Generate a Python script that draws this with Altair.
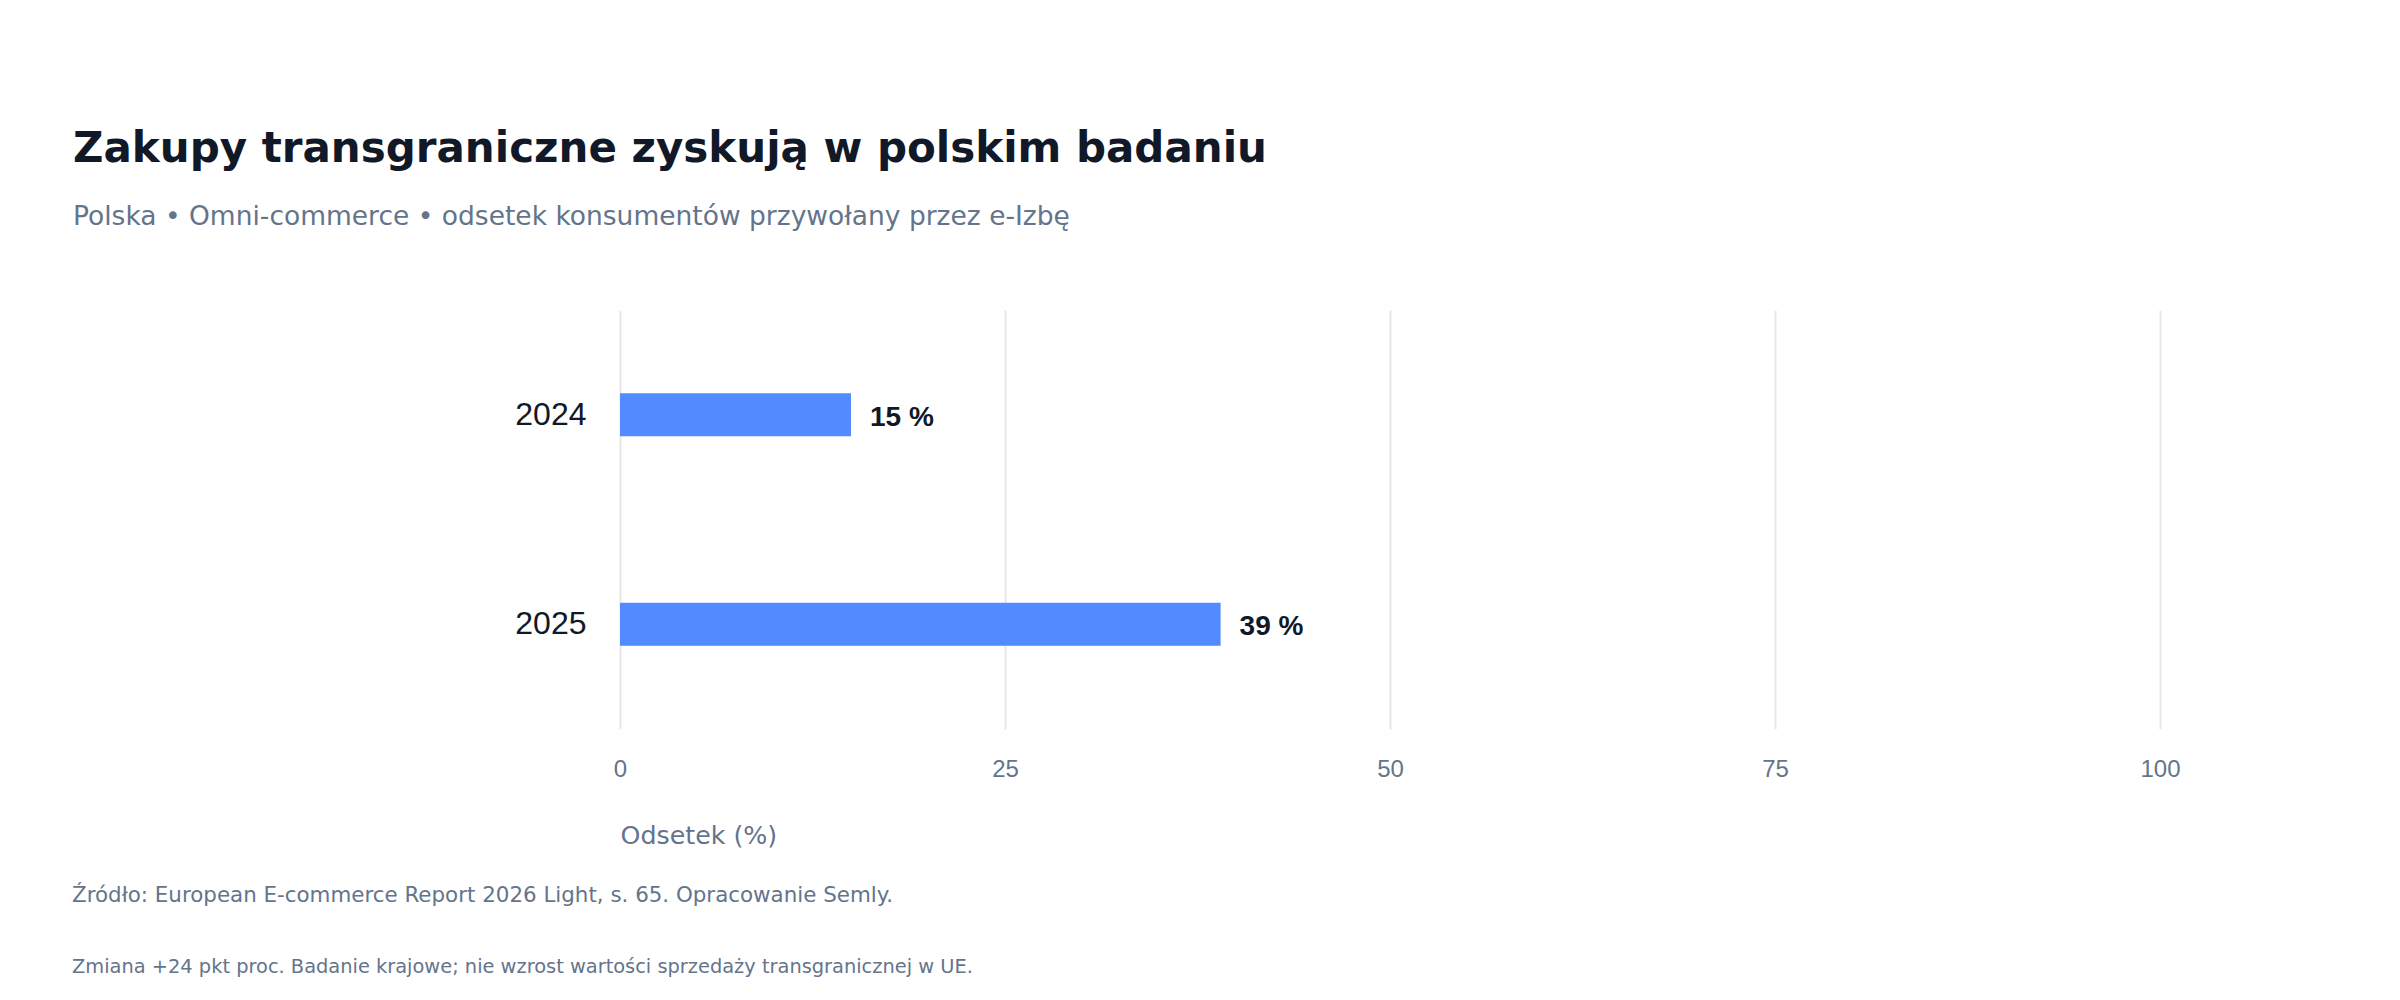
import altair as alt
import pandas as pd

years = ["2024", "2025"]
shares = [15, 39]
x_ticks = [0, 25, 50, 75, 100]

title_text = "Zakupy transgraniczne zyskują w polskim badaniu"
subtitle_text = "Polska • Omni-commerce • odsetek konsumentów przywołany przez e-Izbę"
x_title = "Odsetek (%)"
footnotes = [
    "Źródło: European E-commerce Report 2026 Light, s. 65. Opracowanie Semly.",
    "Zmiana +24 pkt proc. Badanie krajowe; nie wzrost wartości sprzedaży transgranicznej w UE.",
]

LABEL_FONT = "Liberation Sans"
TEXT_FONT = "DejaVu Sans"
DARK = "#111827"
GRAY = "#64748b"
BAR = "#528bff"

W, H = 1540, 419

df = pd.DataFrame({"year": years, "share": shares, "label": [f"{v} %" for v in shares]})
foot_df = pd.DataFrame({"text": footnotes, "row": [0, 1]})

base = alt.Chart(df).encode(
    y=alt.Y(
        "year:N",
        sort=years,
        title=None,
        axis=alt.Axis(
            labelFontSize=32,
            labelColor=DARK,
            labelFont=LABEL_FONT,
            labelPadding=34,
            ticks=False,
            domain=False,
            grid=False,
        ),
    ),
    x=alt.X(
        "share:Q",
        title=x_title,
        scale=alt.Scale(domain=[0, 100], nice=False),
        axis=alt.Axis(
            values=x_ticks,
            labelFontSize=24,
            labelColor=GRAY,
            labelFont=LABEL_FONT,
            labelPadding=28,
            labelFlush=False,
            ticks=False,
            domain=False,
            grid=True,
            gridColor="#e5e7eb",
            gridWidth=2,
            titleFontSize=25.3,
            titleColor=GRAY,
            titleFont=TEXT_FONT,
            titleFontWeight="normal",
            titleAnchor="start",
            titleAlign="left",
            titlePadding=42,
        ),
    ),
)

bars = base.mark_bar(size=43, color=BAR)
labels = base.mark_text(
    align="left", baseline="middle", dx=19, dy=3, fontSize=28, fontWeight="bold", color=DARK, font=LABEL_FONT
).encode(text="label:N")

foot1 = (
    alt.Chart(foot_df)
    .transform_filter("datum.row == 0")
    .mark_text(align="left", baseline="middle", fontSize=21.4, color=GRAY, font=TEXT_FONT)
    .encode(text="text:N", x=alt.value(-548), y=alt.value(586))
)
foot2 = (
    alt.Chart(foot_df)
    .transform_filter("datum.row == 1")
    .mark_text(align="left", baseline="middle", fontSize=19.4, color=GRAY, font=TEXT_FONT)
    .encode(text="text:N", x=alt.value(-548), y=alt.value(657))
)

chart = (
    alt.layer(bars, labels, foot1, foot2)
    .properties(
        width=W,
        height=H,
        background="white",
        autosize=alt.AutoSizeParams(type="none"),
        padding={"left": 612, "top": 302, "right": 200, "bottom": 262},
        title=alt.TitleParams(
            text=title_text,
            subtitle=subtitle_text,
            anchor="start",
            frame="group",
            dx=-547,
            offset=79,
            fontSize=42,
            font=TEXT_FONT,
            fontWeight="bold",
            color=DARK,
            subtitleFontSize=26.5,
            subtitleFont=TEXT_FONT,
            subtitleColor=GRAY,
            subtitlePadding=32.5,
        ),
    )
    .configure_view(stroke="transparent", strokeWidth=0)
)

chart.save("out.html", embed_options={"renderer": "svg", "actions": False})
